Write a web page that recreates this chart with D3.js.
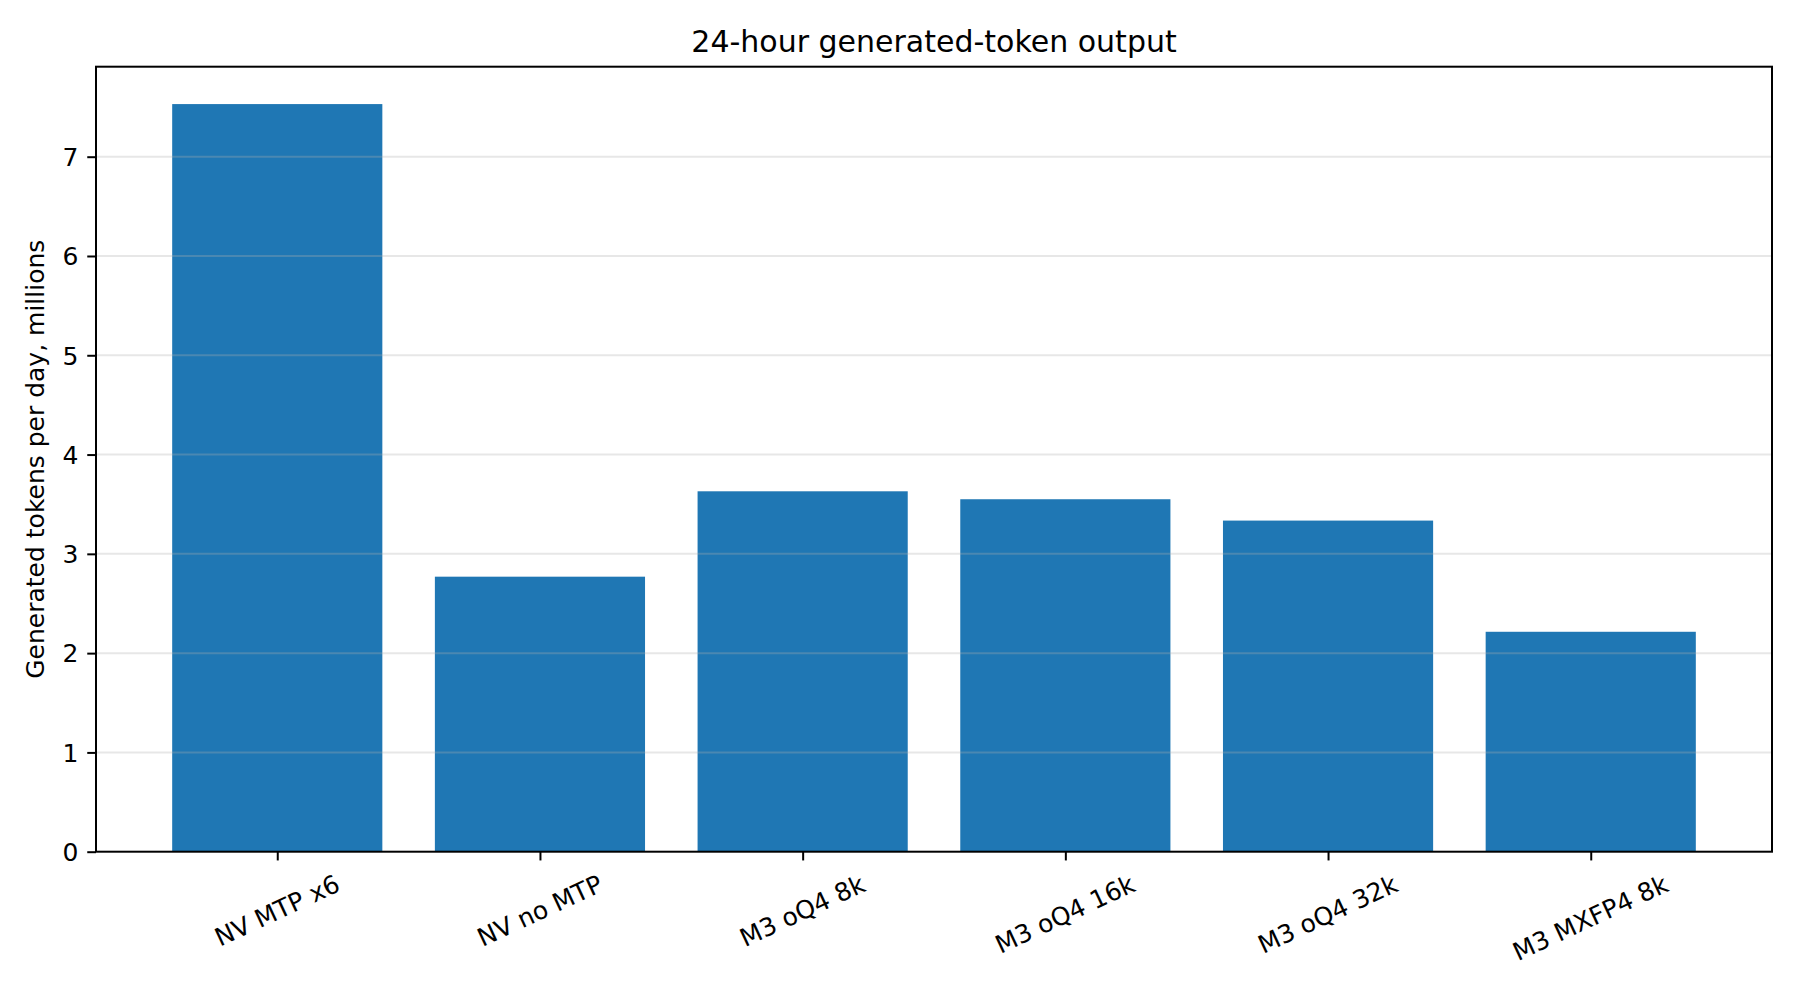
<!DOCTYPE html>
<html>
<head>
<meta charset="utf-8">
<script src="https://cdn.jsdelivr.net/npm/d3@7"></script>
<style>
html,body{margin:0;padding:0;background:#fff;}
svg{display:block;}
text{font-family:"DejaVu Sans",sans-serif;fill:#000;}
</style>
</head>
<body>
<svg id="chart" width="1800" height="990"></svg>
<script>
const categories = ["NV MTP x6", "NV no MTP", "M3 oQ4 8k", "M3 oQ4 16k", "M3 oQ4 32k", "M3 MXFP4 8k"];
const values = [7.53, 2.77, 3.63, 3.55, 3.335, 2.215];
const yTicks = [0, 1, 2, 3, 4, 5, 6, 7];
const titleText = "24-hour generated-token output";
const yLabelText = "Generated tokens per day, millions";

(function () {
const W = 1800, H = 990;
const mLeft = 96, mRight = 1772, mTop = 66.7, mBottom = 851.7;
const svg = d3.select("#chart");

// matplotlib-like bar positions: width 0.8, margins 5%
const n = categories.length;
const xMin = -0.4 - 0.05 * (n - 1 + 0.8), xMax = (n - 1) + 0.4 + 0.05 * (n - 1 + 0.8);
const x = d3.scaleLinear().domain([xMin, xMax]).range([mLeft, mRight]);
const yMax = d3.max(values) * 1.05;
const y = d3.scaleLinear().domain([0, yMax]).range([mBottom, mTop]);

// bars
svg.append("g").selectAll("rect").data(values).join("rect")
  .attr("x", (d, i) => x(i - 0.4))
  .attr("width", (d, i) => x(i + 0.4) - x(i - 0.4))
  .attr("y", d => y(d))
  .attr("height", d => y(0) - y(d))
  .attr("fill", "#1f77b4");

// grid (drawn above bars, semi-transparent)
svg.append("g").selectAll("line").data(yTicks.filter(t => t > 0)).join("line")
  .attr("x1", mLeft).attr("x2", mRight)
  .attr("y1", d => y(d)).attr("y2", d => y(d))
  .attr("stroke", "#b0b0b0").attr("stroke-opacity", 0.3).attr("stroke-width", 2);

// y axis
const yAxis = d3.axisLeft(y).tickValues(yTicks).tickFormat(d3.format("d")).tickSize(8.75).tickPadding(8.75);
const gy = svg.append("g").attr("transform", `translate(${mLeft},0)`).call(yAxis);
gy.select(".domain").remove();
gy.selectAll(".tick line").attr("stroke", "#000").attr("stroke-width", 2);
gy.selectAll(".tick text").attr("font-size", 25).attr("font-family", "DejaVu Sans").attr("fill", "#000").attr("dy", "0.35em");

// x axis
const xAxis = d3.axisBottom(x).tickValues(d3.range(n)).tickFormat(i => categories[i]).tickSize(8.75).tickPadding(0);
const gx = svg.append("g").attr("transform", `translate(0,${mBottom})`).call(xAxis);
gx.select(".domain").remove();
gx.selectAll(".tick line").attr("stroke", "#000").attr("stroke-width", 2);
gx.selectAll(".tick text").remove();

// rotated x tick labels, matplotlib style (rotate, then center bbox)
const ang = 25 * Math.PI / 180;
const labelTop = mBottom + 8.75 + 8.75;
const lg = svg.append("g");
categories.forEach((c, i) => {
  const t = lg.append("text").attr("font-size", 25).attr("text-anchor", "start").attr("x", 0).attr("y", 0).text(c);
  const b = t.node().getBBox();
  const corners = [[b.x, b.y], [b.x + b.width, b.y], [b.x, b.y + b.height], [b.x + b.width, b.y + b.height]]
    .map(([px, py]) => [px * Math.cos(ang) + py * Math.sin(ang), -px * Math.sin(ang) + py * Math.cos(ang)]);
  const minX = d3.min(corners, p => p[0]), maxX = d3.max(corners, p => p[0]);
  const minY = d3.min(corners, p => p[1]);
  const tx = x(i) - (minX + maxX) / 2;
  const ty = labelTop - minY;
  t.attr("transform", `translate(${tx},${ty}) rotate(-25)`);
});

// spines
svg.append("rect").attr("x", mLeft).attr("y", mTop).attr("width", mRight - mLeft).attr("height", mBottom - mTop)
  .attr("fill", "none").attr("stroke", "#000").attr("stroke-width", 2);

// title
svg.append("text").attr("x", (mLeft + mRight) / 2).attr("y", 52).attr("text-anchor", "middle")
  .attr("font-size", 30).text(titleText);

// y label
svg.append("text").attr("transform", `translate(44,${(mTop + mBottom) / 2}) rotate(-90)`)
  .attr("text-anchor", "middle").attr("font-size", 25).text(yLabelText);
})();
</script>
</body>
</html>
